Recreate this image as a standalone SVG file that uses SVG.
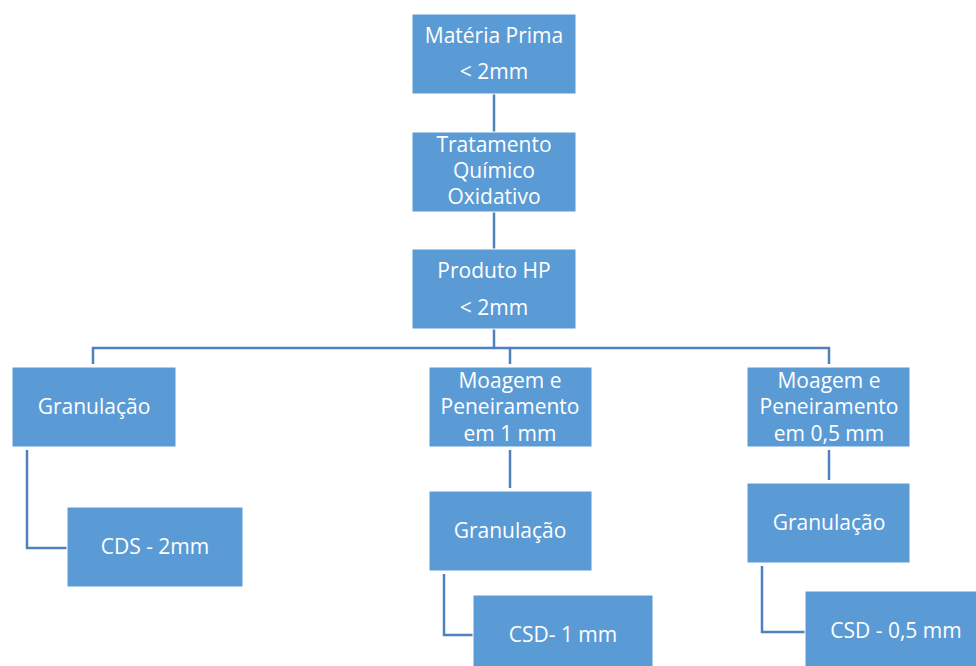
<svg xmlns="http://www.w3.org/2000/svg" width="976" height="666" viewBox="0 0 976 666">
  <style>
    .box { fill: #5B9BD5; stroke: #FFFFFF; stroke-width: 1; }
    .lbl { fill: #FFFFFF; font-family: "Open Sans", "Liberation Sans", sans-serif; font-size: 21px; text-anchor: middle; }
    .link { fill: none; stroke: #4F81BD; stroke-width: 2.5; }
  </style>
  <rect width="976" height="666" fill="#FFFFFF"/>

  <g id="connectors">
    <path class="link" d="M494,94 V132"/>
    <path class="link" d="M494,212 V249"/>
    <path class="link" d="M494,329 V348"/>
    <path class="link" d="M93,364 V348 H829 V364"/>
    <path class="link" d="M510,348 V364"/>
    <path class="link" d="M27,450 V548 H67"/>
    <path class="link" d="M510,450 V488"/>
    <path class="link" d="M444,574 V635 H473"/>
    <path class="link" d="M829,450 V480"/>
    <path class="link" d="M762,566 V632 H805"/>
  </g>

  <g id="materia-prima">
    <rect class="box" x="412" y="14" width="164" height="80"/>
    <text class="lbl" x="494" y="43">Matéria Prima</text>
    <text class="lbl" x="494" y="79">&lt; 2mm</text>
  </g>

  <g id="tratamento">
    <rect class="box" x="412" y="132" width="164" height="80"/>
    <text class="lbl" x="494" y="152">Tratamento</text>
    <text class="lbl" x="494" y="178">Químico</text>
    <text class="lbl" x="494" y="204">Oxidativo</text>
  </g>

  <g id="produto-hp">
    <rect class="box" x="412" y="249" width="164" height="80"/>
    <text class="lbl" x="494" y="278">Produto HP</text>
    <text class="lbl" x="494" y="315">&lt; 2mm</text>
  </g>

  <g id="granulacao-a">
    <rect class="box" x="12" y="367" width="164" height="80"/>
    <text class="lbl" x="94" y="414">Granulação</text>
  </g>

  <g id="cds-2mm">
    <rect class="box" x="67" y="507" width="176" height="80"/>
    <text class="lbl" x="155" y="554">CDS - 2mm</text>
  </g>

  <g id="moagem-1mm">
    <rect class="box" x="429" y="367" width="163" height="80"/>
    <text class="lbl" x="510" y="388">Moagem e</text>
    <text class="lbl" x="510" y="414">Peneiramento</text>
    <text class="lbl" x="510" y="441">em 1 mm</text>
  </g>

  <g id="granulacao-b">
    <rect class="box" x="429" y="491" width="163" height="80"/>
    <text class="lbl" x="510" y="538">Granulação</text>
  </g>

  <g id="csd-1mm">
    <rect class="box" x="473" y="595" width="180" height="80"/>
    <text class="lbl" x="563" y="642">CSD- 1 mm</text>
  </g>

  <g id="moagem-05mm">
    <rect class="box" x="747" y="367" width="163" height="80"/>
    <text class="lbl" x="829" y="388">Moagem e</text>
    <text class="lbl" x="829" y="414">Peneiramento</text>
    <text class="lbl" x="829" y="441">em 0,5 mm</text>
  </g>

  <g id="granulacao-c">
    <rect class="box" x="747" y="483" width="163" height="80"/>
    <text class="lbl" x="829" y="530">Granulação</text>
  </g>

  <g id="csd-05mm">
    <rect class="box" x="805" y="591" width="182" height="80"/>
    <text class="lbl" x="896" y="638">CSD - 0,5 mm</text>
  </g>
</svg>
